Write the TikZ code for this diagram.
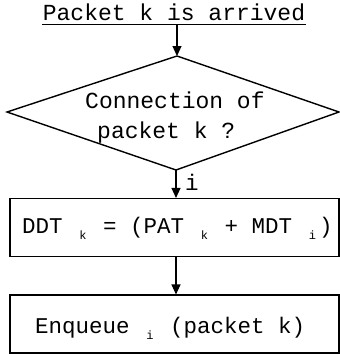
\documentclass[tikz,border=0pt]{standalone}
\usepackage{fontspec}
\setmainfont{Liberation Mono}
\usetikzlibrary{arrows.meta}
\newcommand{\sbx}[1]{\makebox[0.6em]{\raisebox{-0.3em}{\fontsize{12}{12}\selectfont #1}}}
\tikzset{
  line/.style={line width=1.4pt},
  flow/.style={line width=1.2pt,-{Triangle[length=10pt,width=9pt]}},
  txt/.style={font=\fontsize{22.5}{26}\selectfont, inner sep=0pt, anchor=base},
  ttl/.style={font=\fontsize{23}{26}\selectfont, inner sep=0pt, anchor=base},
  boxshape/.style={draw, line width=1.1pt, inner sep=0pt, minimum width=329pt, minimum height=58pt}
}
\begin{document}
\begin{tikzpicture}[x=1pt,y=-1pt]
\useasboundingbox (0,0) rectangle (340,354);
% title
\node[ttl] (title) at (174,20) {Packet k is arrived};
\coordinate (tu1) at (42,24);
\coordinate (tu2) at (306,24);
\draw[line width=1pt] (tu1) -- (tu2);
\coordinate (tstart) at (177,24);
% diamond
\coordinate (dtop) at (177,56);
\coordinate (dleft) at (7,112);
\coordinate (dright) at (339,112);
\coordinate (dbot) at (176,170);
\draw[line] (dtop) -- (dright) -- (dbot) -- (dleft) -- cycle;
\node[ttl, anchor=base west] (q1) at (85,108) {Connection of};
\node[ttl, anchor=base west] (q2) at (97,138) {packet k ?};
% box 1
\node[boxshape] (b1) at (174.5,227.5) {};
\node[txt, anchor=base west] (b1t) at (22,233) {DDT \sbx{k} = (PAT \sbx{k} + MDT \sbx{i})};
% box 2
\node[boxshape] (b2) at (174.5,324) {};
\node[txt, anchor=base west] (b2t) at (35,333) {Enqueue \sbx{i} (packet k)};
% arrows
\draw[flow] (dbot) -- (dbot |- b1.north);
\node[txt, anchor=base west] (lbl) at (185,190) {i};
\draw[flow] (dbot |- b1.south) -- (dbot |- b2.north);
\draw[flow] (tstart) -- (dtop);
\end{tikzpicture}
\end{document}
